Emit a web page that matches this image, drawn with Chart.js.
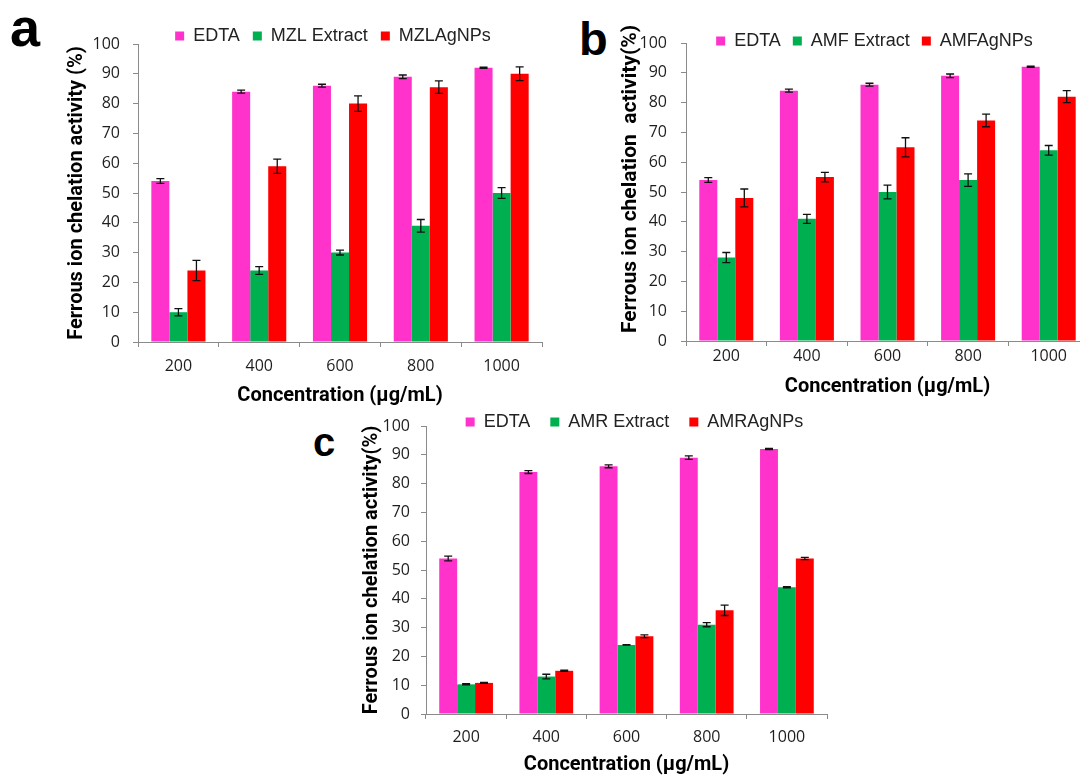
<!DOCTYPE html>
<html>
<head>
<meta charset="utf-8">
<script src="https://cdn.jsdelivr.net/npm/chart.js@4.4.1/dist/chart.umd.min.js"></script>
<style>
  html, body { margin: 0; padding: 0; background: #fff; }
  body { width: 1080px; height: 775px; overflow: hidden; position: relative; }
  .panel { position: absolute; }
  .letter { position: absolute; font-family: 'Liberation Sans', Arial, sans-serif; font-weight: bold; line-height: 1; color: #000; }
</style>
</head>
<body>
<div class="letter" style="left:10px;top:0px;font-size:54px">a</div>
<div class="letter" style="left:579px;top:15px;font-size:47px">b</div>
<div class="letter" style="left:313px;top:422px;font-size:40px">c</div>
<div class="panel" style="left:0;top:0;width:548px;height:412px"><canvas id="chartA"></canvas></div>
<div class="panel" style="left:540px;top:0;width:555px;height:403px"><canvas id="chartB"></canvas></div>
<div class="panel" style="left:300px;top:400px;width:533px;height:381px"><canvas id="chartC"></canvas></div>
<script>
const concentrations = ['200', '400', '600', '800', '1000']

// EDTA standard is the same in all three panels
const edtaValues = [54, 84, 86, 89, 92]
const edtaErrors = [0.8, 0.5, 0.5, 0.6, 0.2]

// a - MZL
const mzlExtract = [10, 24, 30, 39, 50]
const mzlExtractErr = [1.2, 1.3, 0.8, 2.1, 1.8]
const mzlAgNPs = [24, 59, 80, 85.5, 90]
const mzlAgNPsErr = [3.4, 2.4, 2.6, 2.1, 2.3]

// b - AMF
const amfExtract = [28, 41, 50, 54, 64]
const amfExtractErr = [1.7, 1.5, 2.3, 2.1, 1.6]
const amfAgNPs = [48, 55, 65, 74, 82]
const amfAgNPsErr = [3, 1.6, 3.2, 2.1, 2]

// c - AMR
const amrExtract = [10.3, 13, 24, 31, 44]
const amrExtractErr = [0.2, 0.8, 0.1, 0.7, 0.2]
const amrAgNPs = [10.8, 15, 27, 36, 54]
const amrAgNPsErr = [0.2, 0.2, 0.5, 1.8, 0.4]

const barColors = ['#FF33CC', '#00B050', '#FF0000']
const axisGray = '#8a8a8a'

// draws +/- error bars on top of each bar
const errorBars = {
  id: 'errorBars',
  afterDatasetsDraw(chart) {
    const ctx = chart.ctx
    const y = chart.scales.y
    chart.data.datasets.forEach((ds, i) => {
      chart.getDatasetMeta(i).data.forEach((bar, j) => {
        const top = y.getPixelForValue(ds.data[j] + ds.errors[j])
        const bot = y.getPixelForValue(ds.data[j] - ds.errors[j])
        ctx.save()
        ctx.strokeStyle = '#111'
        ctx.lineWidth = 1.3
        ctx.beginPath()
        ctx.moveTo(bar.x, top)
        ctx.lineTo(bar.x, bot)
        ctx.moveTo(bar.x - 4, top)
        ctx.lineTo(bar.x + 4, top)
        ctx.moveTo(bar.x - 4, bot)
        ctx.lineTo(bar.x + 4, bot)
        ctx.stroke()
        ctx.restore()
      })
    })
  },
}

// legend sits partly beside the plot top, so move it after layout
const legendMove = {
  id: 'legendMove',
  afterLayout(chart, args, opts) {
    const lg = chart.legend
    const pad = lg.options.labels.padding
    lg.top = opts.y - pad - 9
    lg.bottom = opts.y + pad + 9
    lg.height = lg.bottom - lg.top
    lg.left += opts.dx
    lg.right += opts.dx
  },
}

function makeChart(id, names, values, errors, lay) {
  const datasets = names.map((name, i) => ({
    label: name,
    data: values[i],
    errors: errors[i],
    backgroundColor: barColors[i],
    borderWidth: 0,
    categoryPercentage: 0.67,
    barPercentage: 1,
  }))

  return new Chart(document.getElementById(id), {
    type: 'bar',
    data: { labels: concentrations, datasets },
    options: {
      responsive: true,
      maintainAspectRatio: false,
      animation: false,
      layout: { padding: lay.padding },
      plugins: {
        legend: {
          fullSize: false,
          maxHeight: 1,
          labels: {
            boxWidth: 9,
            boxHeight: 9,
            padding: lay.legendPad,
            color: '#222',
            font: { family: 'Liberation Sans', size: 18 },
          },
        },
        tooltip: { enabled: false },
        legendMove: { y: lay.legendY, dx: lay.legendDx },
      },
      scales: {
        x: {
          grid: { drawOnChartArea: false, tickLength: 5, color: axisGray },
          border: { color: axisGray },
          ticks: { padding: lay.xTickPad, color: '#1e1e1e', font: { family: 'Open Sans', size: 16 } },
          title: {
            display: true,
            text: 'Concentration (µg/mL)',
            color: '#000',
            font: { family: 'Roboto', weight: 'bold', size: 20 },
          },
          afterFit: s => { s.height = lay.xHeight },
        },
        y: {
          min: 0,
          max: 100,
          grid: { drawOnChartArea: false, tickLength: 5, color: axisGray },
          border: { color: axisGray },
          ticks: { stepSize: 10, padding: lay.yTickPad, color: '#1e1e1e', font: { family: 'Open Sans', size: 16 } },
          title: {
            display: true,
            text: lay.yTitle,
            color: '#000',
            font: { family: 'Roboto', weight: 'bold', size: lay.yTitleSize },
          },
          afterFit: s => { s.width = lay.yWidth },
        },
      },
    },
    plugins: [errorBars, legendMove],
  })
}

makeChart('chartA', ['EDTA', 'MZL Extract', 'MZLAgNPs'],
  [edtaValues, mzlExtract, mzlAgNPs], [edtaErrors, mzlExtractErr, mzlAgNPsErr], {
    padding: { left: 61, top: 43, right: 6, bottom: 0 },
    yWidth: 77, yTickPad: 13, xHeight: 70, xTickPad: 10,
    yTitle: 'Ferrous ion chelation activity (%)', yTitleSize: 20,
    legendPad: 13, legendY: 36, legendDx: -7,
  })

// leading spaces push this title up a little, as in the original
makeChart('chartB', ['EDTA', 'AMF Extract', 'AMFAgNPs'],
  [edtaValues, amfExtract, amfAgNPs], [edtaErrors, amfExtractErr, amfAgNPsErr], {
    padding: { left: 74, top: 42, right: 6, bottom: 0 },
    yWidth: 72, yTickPad: 14, xHeight: 62, xTickPad: 1,
    yTitle: '     Ferrous ion chelation  activity(%)', yTitleSize: 21,
    legendPad: 12, legendY: 41, legendDx: -13,
  })

makeChart('chartC', ['EDTA', 'AMR Extract', 'AMRAgNPs'],
  [edtaValues, amrExtract, amrAgNPs], [edtaErrors, amrExtractErr, amrAgNPsErr], {
    padding: { left: 56, top: 25, right: 6, bottom: 0 },
    yWidth: 70, yTickPad: 11, xHeight: 67, xTickPad: 9,
    yTitle: 'Ferrous ion chelation activity(%)', yTitleSize: 20,
    legendPad: 20, legendY: 22, legendDx: 8,
  })
</script>
</body>
</html>
